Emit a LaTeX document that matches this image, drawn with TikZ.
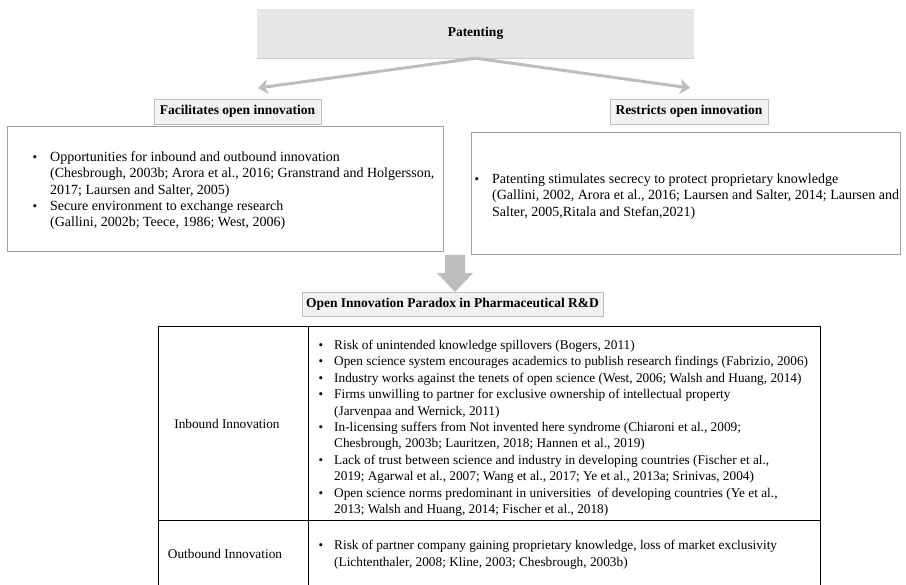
\documentclass[tikz,border=0pt]{standalone}
\usepackage{fontspec}
\setmainfont{Liberation Serif}
\usetikzlibrary{arrows.meta,shadows}
\definecolor{patfill}{HTML}{E6E6E6}
\definecolor{hdrfill}{HTML}{F2F2F2}
\definecolor{hdrline}{HTML}{BFBFBF}
\definecolor{boxline}{HTML}{A0A0A0}
\definecolor{arrowgray}{HTML}{BDBDBD}
\tikzset{
  txt/.style={inner sep=0pt, anchor=base west, font=\fontsize{14}{16}\selectfont},
  tbl/.style={inner sep=0pt, anchor=base west, font=\fontsize{13.3}{16}\selectfont},
  bul/.style={inner sep=0pt, anchor=base, font=\fontsize{13}{16}\selectfont},
  hdr/.style={draw=hdrline, fill=hdrfill, inner sep=0pt, font=\fontsize{13.5}{16}\selectfont\bfseries},
  cbox/.style={draw=boxline, fill=white, inner sep=0pt, line width=0.8pt,
    drop shadow={shadow xshift=1pt, shadow yshift=-1.5pt, fill=black, opacity=0.3}},
  conn/.style={draw=arrowgray, line width=3pt, -{Stealth[length=10pt,width=15pt,inset=3pt]}},
}
\newcommand\txtlines[5]{%
  \foreach \t [count=\i from 0] in {#5} {
    \node[#4] (#1\i) at (#2, {#3+\i*16.4}) {\t};
  }}
\begin{document}
\begin{tikzpicture}[x=1pt,y=-1pt]
\useasboundingbox (0,0) rectangle (906,585);
% Patenting
\node[fill=patfill, inner sep=0pt, minimum width=437pt, minimum height=49pt,
  drop shadow={shadow xshift=0pt, shadow yshift=-1.2pt, fill=black, opacity=0.2},
  font=\fontsize{13.5}{16}\selectfont\bfseries] (pat) at (475.5,33.5) {Patenting};
% headers
\node[hdr, minimum width=167pt, minimum height=25pt] (fac) at (237.5,111.5) {Facilitates open innovation};
\node[hdr, minimum width=158pt, minimum height=25pt] (res) at (689,111.5) {Restricts open innovation};
% arrows
\coordinate (lt) at (258,88);
\coordinate (rt) at (690,88);
\draw[conn] (pat.south) -- (lt);
\draw[conn] (pat.south) -- (rt);
% content boxes
\node[cbox, minimum width=436pt, minimum height=125pt] (facbox) at (225,188.5) {};
\node[cbox, minimum width=429pt, minimum height=122pt] (resbox) at (685.5,193) {};
\node[bul] (fb1) at (35,161.5) {\textbullet};
\txtlines{fa}{50}{161.5}{txt}{{Opportunities for inbound and outbound innovation},{(Chesbrough, 2003b; Arora et al., 2016; Granstrand and Holgersson,},{2017; Laursen and Salter, 2005)}}
\node[bul] (fb2) at (35,210.5) {\textbullet};
\txtlines{fb}{50}{210.5}{txt}{{Secure environment to exchange research},{(Gallini, 2002b; Teece, 1986; West, 2006)}}
\node[bul] (rb1) at (477,183.5) {\textbullet};
\txtlines{ra}{492}{183.5}{txt}{{Patenting stimulates secrecy to protect proprietary knowledge},{(Gallini, 2002, Arora et al., 2016; Laursen and Salter, 2014; Laursen and},{Salter, 2005,Ritala and Stefan,2021)}}
% down arrow
\coordinate (dtip) at (455,292);
\fill[arrowgray] (445,255) -- (465,255) -- (465,273) -- (473,273) -- (dtip) -- (437,273) -- (445,273) -- cycle;
% paradox header
\node[hdr, minimum width=301pt, minimum height=24pt] (par) at (452.5,304.5) {Open Innovation Paradox in Pharmaceutical R\&D};
% table
\coordinate (tl) at (158,327);
\coordinate (tr) at (820,327);
\coordinate (bl) at (158,586);
\coordinate (br) at (820,586);
\coordinate (cm) at (308,327);
\coordinate (cb) at (308,586);
\coordinate (dl) at (158,521);
\coordinate (dr) at (820,521);
\draw[line width=1pt] (bl) -- (tl) -- (tr) -- (br);
\draw[line width=1pt] (cm) -- (cb);
\draw[line width=1pt] (dl) -- (dr);
\node[tbl, anchor=base] (inb) at (227,429) {Inbound Innovation};
\node[tbl, anchor=base] (outb) at (225,558.5) {Outbound Innovation};
\txtlines{t}{334}{349.5}{tbl}{{Risk of unintended knowledge spillovers (Bogers, 2011)},{Open science system encourages academics to publish research findings (Fabrizio, 2006)},{Industry works against the tenets of open science (West, 2006; Walsh and Huang, 2014)},{Firms unwilling to partner for exclusive ownership of intellectual property},{(Jarvenpaa and Wernick, 2011)},{In-licensing suffers from Not invented here syndrome (Chiaroni et al., 2009;},{Chesbrough, 2003b; Lauritzen, 2018; Hannen et al., 2019)},{Lack of trust between science and industry in developing countries (Fischer et al.,},{2019; Agarwal et al., 2007; Wang et al., 2017; Ye et al., 2013a; Srinivas, 2004)},{Open science norms predominant in universities\ \ of developing countries (Ye et al.,},{2013; Walsh and Huang, 2014; Fischer et al., 2018)}}
\foreach \k in {0,1,2,3,5,7,9} {
  \node[bul] (tb\k) at (321, {349.5+\k*16.4}) {\textbullet};
}
\txtlines{o}{334}{550}{tbl}{{Risk of partner company gaining proprietary knowledge, loss of market exclusivity},{(Lichtenthaler, 2008; Kline, 2003; Chesbrough, 2003b)}}
\node[bul] (ob) at (321,550) {\textbullet};
\end{tikzpicture}
\end{document}
